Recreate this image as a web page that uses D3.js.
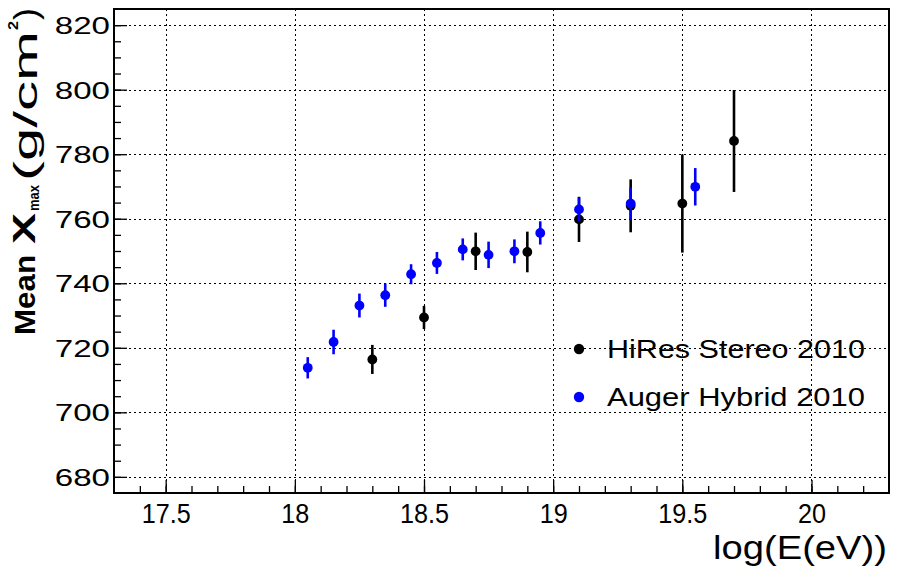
<!DOCTYPE html>
<html>
<head>
<meta charset="utf-8">
<script src="https://cdn.jsdelivr.net/npm/d3@7"></script>
<style>
  html, body { margin: 0; padding: 0; background: #fff; }
  svg { display: block; }
  text { font-family: "Liberation Sans", Arial, sans-serif; fill: #000; }
</style>
</head>
<body>
<svg id="chart" width="903" height="566"></svg>
<script>
// Mean depth of shower maximum vs. energy
const hiresE   = [18.3, 18.5, 18.7, 18.9, 19.1, 19.3, 19.5, 19.7];
const hiresX   = [716.4, 729.4, 749.9, 749.7, 759.8, 764.0, 764.7, 784.1];
const hiresErr = [4.5, 3.6, 5.8, 6.3, 7.0, 8.2, 15.2, 15.8];

const augerE   = [18.05, 18.15, 18.25, 18.35, 18.45, 18.55, 18.65, 18.75, 18.85, 18.95, 19.1, 19.3, 19.55];
const augerX   = [713.8, 721.8, 733.1, 736.3, 742.8, 746.3, 750.5, 748.8, 749.9, 755.6, 762.9, 764.7, 769.9];
const augerErr = [3.3, 3.8, 3.7, 3.6, 3.1, 3.4, 3.4, 4.1, 3.7, 3.6, 3.7, 5.0, 5.8];

const xTicks = [17.5, 18, 18.5, 19, 19.5, 20];
const xTickLabels = ["17.5", "18", "18.5", "19", "19.5", "20"];
const yTicks = [680, 700, 720, 740, 760, 780, 800, 820];

const seriesNames  = ["HiRes Stereo 2010", "Auger Hybrid 2010"];
const seriesColors = ["#000000", "#0000ff"];

const svg = d3.select("#chart");
const pL = 114, pR = 889, pT = 9, pB = 493;

const x = d3.scaleLinear().domain([17.3, 20.3]).range([pL, pR]);
const y = d3.scaleLinear().domain([675, 825]).range([pB, pT]);

// dotted grid
const grid = svg.append("g").attr("stroke", "#000").attr("stroke-width", 1)
  .attr("stroke-dasharray", "2,3");
grid.selectAll("line.gx").data(xTicks).join("line")
  .attr("x1", d => Math.round(x(d)) + 0.5).attr("x2", d => Math.round(x(d)) + 0.5)
  .attr("y1", pT).attr("y2", pB);
grid.selectAll("line.gy").data(yTicks).join("line")
  .attr("y1", d => Math.round(y(d)) + 0.5).attr("y2", d => Math.round(y(d)) + 0.5)
  .attr("x1", pL).attr("x2", pR);

// inward ticks on the left and bottom axes
const xAxis = d3.axisBottom(x).tickValues(xTicks).tickSize(-13).tickFormat((d, i) => xTickLabels[i]);
const xMinor = d3.axisBottom(x).tickValues(d3.range(17.4, 20.25, 0.1).map(v => +v.toFixed(1)))
  .tickSize(-7).tickFormat("");
const yAxis = d3.axisLeft(y).tickValues(yTicks).tickSize(-13).tickFormat(d3.format("d"));
const yMinor = d3.axisLeft(y).tickValues(d3.range(680, 825, 5)).tickSize(-7).tickFormat("");

function styleAxis(g) {
  g.select(".domain").remove();
  g.selectAll(".tick line").attr("stroke", "#000").attr("stroke-width", 1.3);
}

svg.append("g").attr("transform", `translate(0,${pB})`).call(xMinor).call(styleAxis);
const gx = svg.append("g").attr("transform", `translate(0,${pB})`).call(xAxis).call(styleAxis);
gx.selectAll(".tick text")
  .attr("font-size", 28).attr("y", 0).attr("dy", 0).attr("x", 0)
  .attr("text-anchor", "middle")
  .attr("transform", "translate(0,30) scale(0.9,1)");

svg.append("g").attr("transform", `translate(${pL},0)`).call(yMinor).call(styleAxis);
const gy = svg.append("g").attr("transform", `translate(${pL},0)`).call(yAxis).call(styleAxis);
gy.selectAll(".tick text")
  .attr("font-size", 24).attr("x", 0).attr("dy", "0.36em")
  .attr("text-anchor", "end")
  .attr("transform", "translate(-4,0) scale(1.38,1)");

// frame
svg.append("rect").attr("x", pL).attr("y", pT)
  .attr("width", pR - pL).attr("height", pB - pT)
  .attr("fill", "none").attr("stroke", "#000").attr("stroke-width", 2);

// series with vertical error bars
function drawSeries(es, xs, errs, color) {
  const data = es.map((e, i) => ({ e, v: xs[i], err: errs[i] }));
  const g = svg.append("g");
  g.selectAll("line").data(data).join("line")
    .attr("x1", d => x(d.e)).attr("x2", d => x(d.e))
    .attr("y1", d => y(d.v - d.err)).attr("y2", d => y(d.v + d.err))
    .attr("stroke", color).attr("stroke-width", 2.6);
  g.selectAll("circle").data(data).join("circle")
    .attr("cx", d => x(d.e)).attr("cy", d => y(d.v)).attr("r", 4.9)
    .attr("fill", color);
}
drawSeries(hiresE, hiresX, hiresErr, seriesColors[0]);
drawSeries(augerE, augerX, augerErr, seriesColors[1]);

// legend
const legend = svg.append("g");
seriesNames.forEach((name, i) => {
  const ly = 349 + i * 48;
  legend.append("circle").attr("cx", 579).attr("cy", ly).attr("r", 5.2).attr("fill", seriesColors[i]);
  legend.append("text").attr("x", 607).attr("y", ly).attr("dy", "0.36em")
    .attr("font-size", 25).attr("textLength", 258).attr("lengthAdjust", "spacingAndGlyphs")
    .text(name);
});

// x-axis title
svg.append("text").attr("x", 887).attr("y", 559).attr("text-anchor", "end")
  .attr("font-size", 33).attr("textLength", 174).attr("lengthAdjust", "spacingAndGlyphs")
  .text("log(E(eV))");

// y-axis title, laid out along the rotated axis (position = distance from top)
const yTitle = svg.append("g").attr("transform", "translate(35,0) rotate(-90)");
const titleParts = [
  { t: "Mean", at: 335, len: 80, size: 30, weight: "bold", dy: 0 },
  { t: "X", at: 244, len: 31, size: 31, weight: "bold", dy: 0 },
  { t: "max", at: 211, len: 26, size: 14, weight: "bold", dy: 4 },
  { t: "(g/cm", at: 181, len: 150, size: 34, weight: "normal", dy: 2 },
  { t: "2", at: 30, len: 9, size: 15, weight: "bold", dy: -17 },
  { t: ")", at: 20, len: 12, size: 34, weight: "normal", dy: 2 }
];
titleParts.forEach(p => {
  yTitle.append("text").attr("x", -p.at).attr("y", p.dy)
    .attr("font-size", p.size).attr("font-weight", p.weight)
    .attr("textLength", p.len).attr("lengthAdjust", "spacingAndGlyphs")
    .text(p.t);
});
</script>
</body>
</html>
